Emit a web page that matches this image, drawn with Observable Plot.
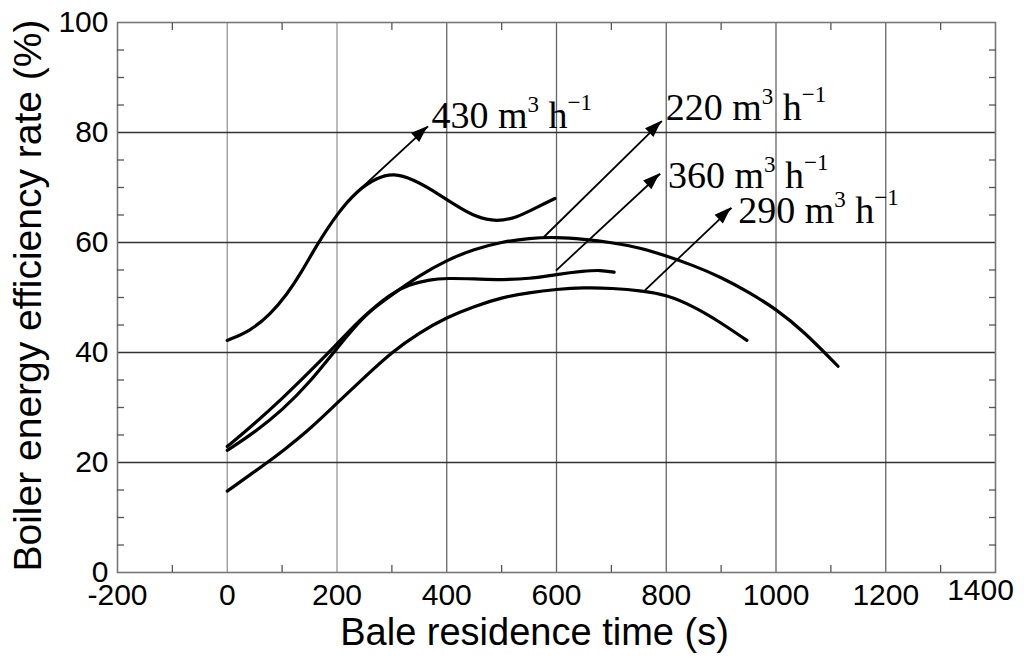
<!DOCTYPE html>
<html>
<head>
<meta charset="utf-8">
<script src="https://cdn.jsdelivr.net/npm/d3@7"></script>
<script src="https://cdn.jsdelivr.net/npm/@observablehq/plot@0.6"></script>
<style>
  html, body { margin: 0; padding: 0; background: #fff; }
  #chart svg { display: block; }
</style>
</head>
<body>
<div id="chart"></div>
<script>
// ---- tick values ----
const xTicks = [-200, 0, 200, 400, 600, 800, 1000, 1200];
const xLastTick = [1400];
const yTicks = [0, 20, 40, 60, 80, 100];
const xGrid = [0, 200, 400, 600, 800, 1000, 1200];
const yGrid = [20, 40, 60, 80];
const xMinor = [-100, 100, 300, 500, 700, 900, 1100, 1300];
const yMinor = [5, 10, 15, 25, 30, 35, 45, 50, 55, 65, 70, 75, 85, 90, 95];

// ---- series (time in s, efficiency in %) ----
const t430 = [0, 42, 79, 109, 133, 164, 200, 236, 273, 303, 339, 376, 412, 455, 491, 527, 564, 597];
const e430 = [42.2, 43.9, 47.0, 50.6, 54.2, 59.7, 65.2, 69.4, 71.8, 72.6, 71.5, 69.4, 67.0, 64.5, 63.8, 64.5, 66.4, 68.0];

const t220 = [0, 50, 100, 150, 200, 250, 300, 350, 400, 450, 500, 550, 600, 650, 700, 750, 800, 850, 900, 950, 1000, 1050, 1113];
const e220 = [22.9, 27.1, 31.6, 36.5, 41.5, 46.9, 50.5, 54.0, 56.8, 58.8, 60.1, 60.8, 61.0, 60.6, 60.0, 59.1, 57.6, 55.8, 53.7, 51.0, 47.9, 43.9, 37.5];

const t360 = [0, 50, 100, 150, 200, 250, 300, 330, 370, 400, 450, 500, 550, 600, 650, 680, 705];
const e360 = [22.2, 25.5, 29.5, 34.5, 40.8, 46.8, 50.8, 52.3, 53.3, 53.5, 53.4, 53.2, 53.4, 54.2, 54.8, 55.0, 54.6];

const t290 = [0, 73, 100, 150, 200, 250, 300, 350, 400, 450, 500, 550, 600, 650, 700, 758, 800, 850, 900, 947];
const e290 = [14.8, 20.0, 22.0, 26.0, 30.8, 35.5, 40.1, 43.6, 46.4, 48.4, 50.0, 50.9, 51.5, 51.8, 51.7, 51.2, 50.5, 48.4, 45.4, 42.2];

// ---- annotations ----
const labelNames = ["430", "220", "360", "290"];
const labelT = [373, 800, 804, 932];
const labelE = [80.8, 82.2, 69.8, 63.5];
const arrowFromT = [240, 577, 599, 761];
const arrowFromE = [69.5, 61.0, 54.9, 51.3];
const arrowToT = [366, 792, 789, 919];
const arrowToE = [81.1, 82.05, 72.5, 66.3];

const xTitle = "Bale residence time (s)";
const yTitle = "Boiler energy efficiency rate (%)";

// ---- tables built from the arrays ----
const seriesList = [
  {name: "430", t: t430, e: e430},
  {name: "220", t: t220, e: e220},
  {name: "360", t: t360, e: e360},
  {name: "290", t: t290, e: e290}
];
const rows = seriesList.flatMap(s => s.t.map((t, i) => ({series: s.name, t, e: s.e[i]})));
const arrowRows = arrowFromT.map((v, i) => ({x1: v, y1: arrowFromE[i], x2: arrowToT[i], y2: arrowToE[i]}));
const labelRows = labelNames.map((n, i) => ({num: n, x: labelT[i], y: labelE[i]}));

const sans = "'Liberation Sans', Arial, Helvetica, sans-serif";
const serif = "'Liberation Serif', 'Times New Roman', Times, serif";

const plot = Plot.plot({
  width: 1024,
  height: 667,
  marginLeft: 117,
  marginRight: 29,
  marginTop: 22,
  marginBottom: 95,
  style: {fontFamily: sans, color: "black", background: "white"},
  x: {domain: [-200, 1400], axis: null},
  y: {domain: [0, 100], axis: null},
  marks: [
    Plot.gridX(xGrid, {stroke: d => d <= 200 ? "#999" : "#666", strokeOpacity: 1, strokeWidth: 1.3}),
    Plot.gridY(yGrid, {stroke: "#333", strokeOpacity: 1, strokeWidth: 1.3}),
    Plot.frame({stroke: "#777", strokeWidth: 1.6}),
    // minor inward ticks
    Plot.axisX(xMinor, {anchor: "bottom", tickSize: 7, dy: -7, tickFormat: () => "", label: null, stroke: "#555", strokeWidth: 1.3}),
    Plot.axisX(xMinor, {anchor: "top", tickSize: 7, dy: 7, tickFormat: () => "", label: null, stroke: "#555", strokeWidth: 1.3}),
    Plot.axisY(yMinor, {anchor: "left", tickSize: 7, dx: 7, tickFormat: () => "", label: null, stroke: "#555", strokeWidth: 1.3}),
    Plot.axisY(yMinor, {anchor: "right", tickSize: 7, dx: -7, tickFormat: () => "", label: null, stroke: "#555", strokeWidth: 1.3}),
    // tick labels
    Plot.text(xTicks, {x: d => d, text: d => String(d), frameAnchor: "bottom", lineAnchor: "top", textAnchor: "middle", dy: 11, fontSize: 30, fill: "black"}),
    Plot.text(xLastTick, {x: d => d, text: d => String(d), frameAnchor: "bottom", lineAnchor: "top", textAnchor: "middle", dx: -15, dy: 6, fontSize: 30, fill: "black"}),
    Plot.text(yTicks, {y: d => d, text: d => String(d), frameAnchor: "left", lineAnchor: "middle", textAnchor: "end", dx: -9, fontSize: 30, fill: "black"}),
    // axis titles
    Plot.text([xTitle], {frameAnchor: "bottom", text: d => d, textAnchor: "middle", lineAnchor: "middle", dx: -22, dy: 60, fontSize: 38, fill: "black"}),
    Plot.text([yTitle], {frameAnchor: "left", text: d => d, rotate: -90, textAnchor: "middle", lineAnchor: "middle", dx: -89, dy: -2, fontSize: 39, fill: "black"}),
    // curves
    Plot.line(rows, {x: "t", y: "e", z: "series", stroke: "black", strokeWidth: 3.2, curve: "basis"}),
    // arrows
    Plot.link(arrowRows, {x1: "x1", y1: "y1", x2: "x2", y2: "y2", stroke: "black", strokeWidth: 1.8}),
    Plot.dot(arrowRows, {
      x: "x2", y: "y2",
      render(index, scales, values) {
        const g = d3.create("svg:g").attr("fill", "black");
        for (const i of index) {
          const d = arrowRows[i];
          const X1 = scales.x(d.x1), Y1 = scales.y(d.y1);
          const X2 = scales.x(d.x2), Y2 = scales.y(d.y2);
          const a = Math.atan2(Y2 - Y1, X2 - X1);
          const L = 17, W = 6;
          const bx = X2 - L * Math.cos(a), by = Y2 - L * Math.sin(a);
          const px = W * Math.sin(a), py = -W * Math.cos(a);
          g.append("path").attr("d", `M${X2},${Y2}L${bx + px},${by + py}L${bx - px},${by - py}Z`);
        }
        return g.node();
      }
    }),
    // labels with superscripts
    Plot.text(labelRows, {
      x: "x", y: "y", text: "num",
      render(index, scales, values) {
        const g = d3.create("svg:g")
          .attr("font-family", serif)
          .attr("font-size", 38)
          .attr("fill", "black")
          .attr("text-anchor", "start")
          .style("white-space", "pre");
        for (const i of index) {
          const t = g.append("text").attr("x", values.x[i]).attr("y", values.y[i]);
          t.append("tspan").text(labelRows[i].num + " m");
          t.append("tspan").attr("font-size", 23).attr("dy", -16).text("3");
          t.append("tspan").attr("dy", 16).text(" h");
          t.append("tspan").attr("font-size", 23).attr("dy", -18).text("\u22121");
        }
        return g.node();
      }
    })
  ]
});

document.getElementById("chart").appendChild(plot);
</script>
</body>
</html>
